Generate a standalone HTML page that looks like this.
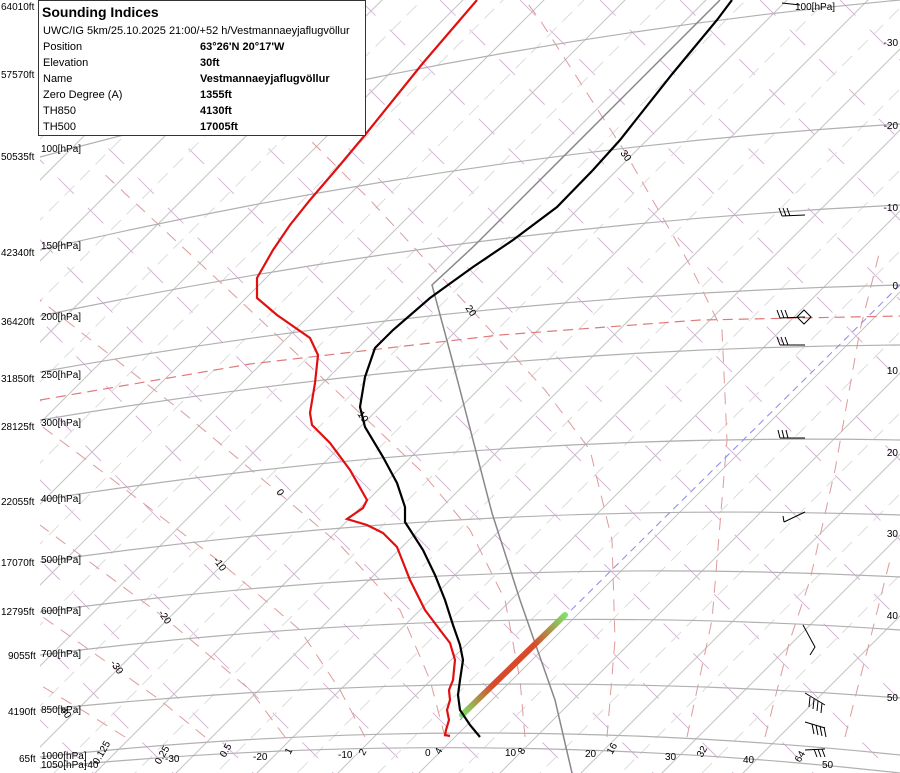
<!DOCTYPE html>
<html><head><meta charset="utf-8"><style>
html,body{margin:0;padding:0;background:#fff;width:900px;height:773px;overflow:hidden;}
svg{display:block;font-family:"Liberation Sans",sans-serif;}
</style></head><body>
<svg width="900" height="773" viewBox="0 0 900 773" xmlns="http://www.w3.org/2000/svg">
<defs>
<clipPath id="pa"><rect x="40" y="0" width="860" height="773"/></clipPath>
<linearGradient id="gr" x1="462" y1="715" x2="565" y2="615" gradientUnits="userSpaceOnUse">
<stop offset="0" stop-color="#7ee06a"/><stop offset="0.3" stop-color="#d84a2a"/><stop offset="0.7" stop-color="#d84a2a"/><stop offset="1" stop-color="#7ee06a"/>
</linearGradient>
</defs>
<g clip-path="url(#pa)">
<g stroke="#d7b4da" stroke-width="1" stroke-dasharray="22 20" fill="none">
<line x1="-200" y1="0" x2="800" y2="1000"/>
<line x1="-120" y1="0" x2="880" y2="1000"/>
<line x1="-40" y1="0" x2="960" y2="1000"/>
<line x1="40" y1="0" x2="1040" y2="1000"/>
<line x1="120" y1="0" x2="1120" y2="1000"/>
<line x1="200" y1="0" x2="1200" y2="1000"/>
<line x1="280" y1="0" x2="1280" y2="1000"/>
<line x1="360" y1="0" x2="1360" y2="1000"/>
<line x1="440" y1="0" x2="1440" y2="1000"/>
<line x1="520" y1="0" x2="1520" y2="1000"/>
<line x1="600" y1="0" x2="1600" y2="1000"/>
<line x1="680" y1="0" x2="1680" y2="1000"/>
<line x1="760" y1="0" x2="1760" y2="1000"/>
<line x1="840" y1="0" x2="1840" y2="1000"/>
<line x1="-280" y1="0" x2="720" y2="1000"/>
<line x1="-360" y1="0" x2="640" y2="1000"/>
<line x1="-440" y1="0" x2="560" y2="1000"/>
<line x1="-520" y1="0" x2="480" y2="1000"/>
<line x1="-600" y1="0" x2="400" y2="1000"/>
<line x1="-680" y1="0" x2="320" y2="1000"/>
<line x1="-760" y1="0" x2="240" y2="1000"/>
<line x1="-840" y1="0" x2="160" y2="1000"/>
</g>
<g stroke="#c4c4c4" stroke-width="1" fill="none">
<line x1="-200" y1="1635" x2="1635" y2="-200"/>
<line x1="-200" y1="1716" x2="1716" y2="-200"/>
<line x1="-200" y1="1554" x2="1554" y2="-200"/>
<line x1="-200" y1="1473" x2="1473" y2="-200"/>
<line x1="-200" y1="1392" x2="1392" y2="-200"/>
<line x1="-200" y1="1311" x2="1311" y2="-200"/>
<line x1="-200" y1="1230" x2="1230" y2="-200"/>
<line x1="-200" y1="1149" x2="1149" y2="-200"/>
<line x1="-200" y1="1068" x2="1068" y2="-200"/>
<line x1="-200" y1="987" x2="987" y2="-200"/>
<line x1="-200" y1="906" x2="906" y2="-200"/>
<line x1="-200" y1="825" x2="825" y2="-200"/>
<line x1="-200" y1="744" x2="744" y2="-200"/>
<line x1="-200" y1="663" x2="663" y2="-200"/>
<line x1="-200" y1="582" x2="582" y2="-200"/>
<line x1="-200" y1="501" x2="501" y2="-200"/>
<line x1="-200" y1="420" x2="420" y2="-200"/>
<line x1="-200" y1="339" x2="339" y2="-200"/>
<line x1="-200" y1="258" x2="258" y2="-200"/>
</g>
<g stroke="#dcdcdc" stroke-width="1" stroke-dasharray="14 8" fill="none">
<line x1="-200" y1="1675" x2="1675" y2="-200"/>
<line x1="-200" y1="1594" x2="1594" y2="-200"/>
<line x1="-200" y1="1513" x2="1513" y2="-200"/>
<line x1="-200" y1="1432" x2="1432" y2="-200"/>
<line x1="-200" y1="1351" x2="1351" y2="-200"/>
<line x1="-200" y1="1270" x2="1270" y2="-200"/>
<line x1="-200" y1="1189" x2="1189" y2="-200"/>
<line x1="-200" y1="1108" x2="1108" y2="-200"/>
<line x1="-200" y1="1027" x2="1027" y2="-200"/>
<line x1="-200" y1="946" x2="946" y2="-200"/>
<line x1="-200" y1="865" x2="865" y2="-200"/>
<line x1="-200" y1="784" x2="784" y2="-200"/>
<line x1="-200" y1="703" x2="703" y2="-200"/>
<line x1="-200" y1="622" x2="622" y2="-200"/>
<line x1="-200" y1="541" x2="541" y2="-200"/>
<line x1="-200" y1="460" x2="460" y2="-200"/>
<line x1="-200" y1="379" x2="379" y2="-200"/>
<line x1="-200" y1="298" x2="298" y2="-200"/>
</g>
<g stroke="#de9a9a" stroke-width="1" stroke-dasharray="12 9" fill="none">
<polyline points="687,737 712,620 727,440 722,330 690,265 625,152 540,20 525,0"/>
<polyline points="607,737 615,640 612,540 590,450 545,390 470,308 370,200 230,60"/>
<polyline points="525,737 520,680 505,600 470,530 420,470 362,415 250,310 100,170"/>
<polyline points="445,737 430,680 400,610 340,545 280,494 180,410 40,300"/>
<polyline points="365,737 340,690 300,630 220,562 100,470 40,425"/>
<polyline points="285,737 250,690 165,618 40,525"/>
<polyline points="205,737 160,700 115,668 40,615"/>
<polyline points="125,737 90,715 40,685"/>
<polyline points="765,737 790,640 810,580 835,470 860,330 880,250"/>
<polyline points="845,737 870,640 890,560"/>
</g>
<g stroke="#b0b0b0" stroke-width="1.2" fill="none">
<path d="M40,157 Q470,40 900,0"/>
<path d="M40,250 Q470,150 900,124"/>
<path d="M40,316 Q470,225 900,205"/>
<path d="M40,372 Q470,295 900,285"/>
<path d="M40,420 Q470,348 900,345"/>
<path d="M40,500 Q470,432 900,440"/>
<path d="M40,562 Q470,500 900,515"/>
<path d="M40,612 Q470,555 900,577"/>
<path d="M40,655 Q470,600 900,630"/>
<path d="M40,710 Q470,665 900,698"/>
<path d="M40,757 Q470,710 900,755"/>
<path d="M40,768 Q470,725 900,773"/>
</g>
<polyline points="40,400 250,364 500,335 700,320 900,316" fill="none" stroke="#e07a7a" stroke-width="1.2" stroke-dasharray="10 6"/>
<line x1="460" y1="720" x2="900" y2="285" stroke="#8a8ae6" stroke-width="1" stroke-dasharray="7 5"/>
<polyline points="720,0 660,60 597,123 540,180 473,247 432,285 453,363 492,513 520,600 555,700 572,773" fill="none" stroke="#888" stroke-width="1.5"/>
<line x1="462" y1="715" x2="565" y2="615" stroke="url(#gr)" stroke-width="6" stroke-linecap="round"/>
<polyline points="732,0 717,20 673,73 620,140 593,170 557,207 513,240 473,267 430,298 393,330 375,348 365,377 360,407 365,427 383,457 397,483 405,507 405,522 423,550 435,575 445,600 453,625 460,645 463,660 460,680 458,695 460,710 470,725 480,737" fill="none" stroke="#000" stroke-width="2.2"/>
<polyline points="477,0 423,63 365,135 340,165 310,200 290,225 273,250 257,278 257,298 277,315 310,338 318,355 315,383 310,413 312,425 330,443 350,470 367,500 363,508 347,519 367,525 383,533 397,547 410,580 425,610 440,630 450,643 455,660 453,680 449,690 450,700 447,710 449,720 446,730 445,735 450,736" fill="none" stroke="#e01010" stroke-width="2.2"/>
<g stroke="#000" stroke-width="1" fill="none">
<path d="M803,625 L815,647 L810,655"/>
<path d="M805,693 L825,705 M810,697 l-1,10 M814,699 l-1,10 M818,701 l-1,10 M822,703 l-1,10"/>
<path d="M805,722 L825,728 M812,724 l2,10 M816,725 l2,10 M820,726 l2,10 M824,727 l2,10"/>
<path d="M805,750 L825,749 M814,749 l3,8 M818,749 l3,8 M822,749 l3,8"/>
<path d="M784,522 L805,512 M784,522 l-1,-6"/>
<path d="M780,438 L805,438 M780,438 l-2,-8 M784,438 l-2,-8 M788,438 l-2,-8"/>
<path d="M780,345 L805,345 M780,345 l-3,-8 M784,345 l-3,-8 M788,345 l-3,-8"/>
<path d="M780,318 L805,317 M780,318 l-3,-8 M784,318 l-3,-8 M788,318 l-3,-8"/>
<path d="M797,317 l7,-7 l7,7 l-7,7 z"/>
<path d="M782,216 L805,215 M782,216 l-3,-8 M786,216 l-3,-8 M790,216 l-3,-8"/>
<path d="M782,3 L800,5"/>
</g>
</g>
<g font-size="10" fill="#000">
<text x="1" y="10">64010ft</text>
<text x="1" y="78">57570ft</text>
<text x="1" y="160">50535ft</text>
<text x="1" y="256">42340ft</text>
<text x="1" y="325">36420ft</text>
<text x="1" y="382">31850ft</text>
<text x="1" y="430">28125ft</text>
<text x="1" y="505">22055ft</text>
<text x="1" y="566">17070ft</text>
<text x="1" y="615">12795ft</text>
<text x="8" y="659">9055ft</text>
<text x="8" y="715">4190ft</text>
<text x="19" y="762">65ft</text>
<text x="41" y="152">100[hPa]</text>
<text x="41" y="249">150[hPa]</text>
<text x="41" y="320">200[hPa]</text>
<text x="41" y="378">250[hPa]</text>
<text x="41" y="426">300[hPa]</text>
<text x="41" y="502">400[hPa]</text>
<text x="41" y="563">500[hPa]</text>
<text x="41" y="614">600[hPa]</text>
<text x="41" y="657">700[hPa]</text>
<text x="41" y="713">850[hPa]</text>
<text x="41" y="759">1000[hPa]</text>
<text x="41" y="768">1050[hPa]</text>
<text x="795" y="10">100[hPa]</text>
<g text-anchor="end">
<text x="898" y="46">-30</text><text x="898" y="129">-20</text><text x="898" y="211">-10</text>
<text x="898" y="289">0</text><text x="898" y="374">10</text><text x="898" y="456">20</text>
<text x="898" y="537">30</text><text x="898" y="619">40</text><text x="898" y="701">50</text>
</g>
<text x="165" y="762">-30</text><text x="253" y="760">-20</text><text x="338" y="758">-10</text>
<text x="425" y="756">0</text><text x="505" y="756">10</text><text x="585" y="757">20</text>
<text x="665" y="760">30</text><text x="743" y="763">40</text><text x="822" y="768">50</text>
<text x="84" y="768">-40</text>
<g>
<text transform="translate(98,765) rotate(-60)">0.125</text>
<text transform="translate(160,765) rotate(-60)">0.25</text>
<text transform="translate(225,758) rotate(-60)">0.5</text>
<text transform="translate(290,755) rotate(-60)">1</text>
<text transform="translate(364,756) rotate(-60)">2</text>
<text transform="translate(440,755) rotate(-60)">4</text>
<text transform="translate(523,755) rotate(-60)">8</text>
<text transform="translate(612,755) rotate(-60)">16</text>
<text transform="translate(702,758) rotate(-60)">32</text>
<text transform="translate(800,763) rotate(-60)">64</text>
</g>
<g>
<text transform="translate(620,153) rotate(55)">30</text>
<text transform="translate(465,308) rotate(55)">20</text>
<text transform="translate(357,414) rotate(55)">10</text>
<text transform="translate(276,492) rotate(55)">0</text>
<text transform="translate(213,560) rotate(55)">-10</text>
<text transform="translate(158,613) rotate(55)">-20</text>
<text transform="translate(110,663) rotate(55)">-30</text>
<text transform="translate(60,710) rotate(55)">40</text>
</g>
</g>
<rect x="38.5" y="0.5" width="327" height="135" fill="#fff" stroke="#333" stroke-width="1"/>
<g font-size="11" fill="#000">
<text x="42" y="17" font-size="14" font-weight="bold">Sounding Indices</text>
<text x="43" y="34">UWC/IG 5km/25.10.2025 21:00/+52 h/Vestmannaeyjaflugvöllur</text>
<text x="43" y="50">Position</text><text x="200" y="50" font-weight="bold">63°26'N 20°17'W</text>
<text x="43" y="66">Elevation</text><text x="200" y="66" font-weight="bold">30ft</text>
<text x="43" y="82">Name</text><text x="200" y="82" font-weight="bold">Vestmannaeyjaflugvöllur</text>
<text x="43" y="98">Zero Degree (A)</text><text x="200" y="98" font-weight="bold">1355ft</text>
<text x="43" y="114">TH850</text><text x="200" y="114" font-weight="bold">4130ft</text>
<text x="43" y="130">TH500</text><text x="200" y="130" font-weight="bold">17005ft</text>
</g>
</svg>
</body></html>
